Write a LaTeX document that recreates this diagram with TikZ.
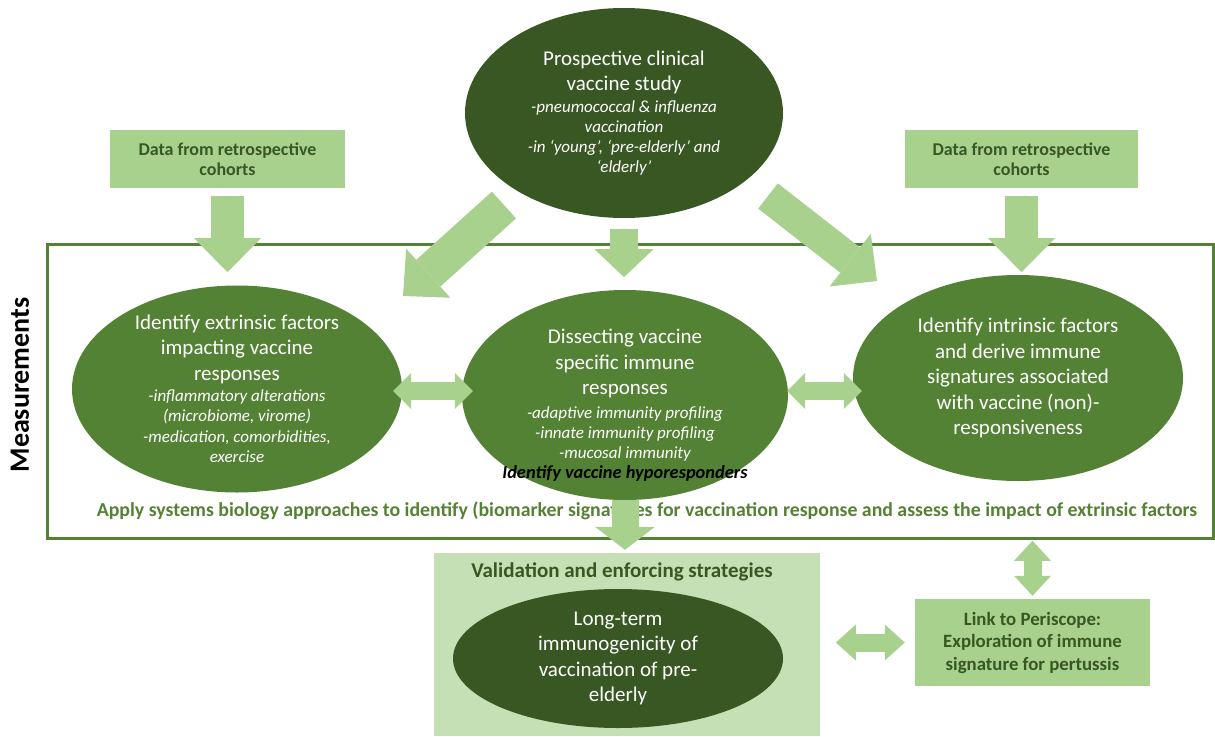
\documentclass[tikz,border=0pt]{standalone}
\usepackage{fontspec}
\setmainfont{Carlito}
\usetikzlibrary{shapes.geometric,arrows.meta,positioning}

\definecolor{darkgreen}{HTML}{385723}
\definecolor{midgreen}{HTML}{548235}
\definecolor{lightgreen}{HTML}{A9D18E}
\definecolor{palegreen}{HTML}{C5E0B4}

% small italic lines inside the ovals
\newcommand{\subline}[1]{{\fontsize{17}{20.5}\selectfont\itshape #1}}

\begin{document}
\begin{tikzpicture}[x=1pt, y=-1pt,
  oval/.style={ellipse, fill=#1, text=white, inner sep=-4pt, align=center,
               font=\fontsize{21}{25.5}\selectfont},
  databox/.style={rectangle, fill=lightgreen, text=darkgreen, align=center,
                  font=\fontsize{18}{20.5}\selectfont\bfseries},
  fatarrow/.style n args={3}{draw=lightgreen, line width=#1,
                  -{Triangle[width=#2, length=#3, line width=0pt]}},
  fatdouble/.style n args={3}{draw=lightgreen, line width=#1,
                  {Triangle[width=#2, length=#3, line width=0pt]}-{Triangle[width=#2, length=#3, line width=0pt]}}
]
\useasboundingbox (0,0) rectangle (1215,736);

% ============================
% Frames and boxes
% ============================
\node[draw=midgreen, line width=3pt, minimum width=1166pt, minimum height=294pt] (meas) at (630,391) {};
\node[fill=palegreen, minimum width=386pt, minimum height=183pt] (valid) at (627,644.5) {};

\node[databox, minimum width=235pt, minimum height=58pt] (dataL) at (227.5,159)
  {Data from retrospective\\cohorts};
\node[databox, minimum width=233pt, minimum height=58pt] (dataR) at (1021.5,159)
  {Data from retrospective\\cohorts};
\node[databox, font=\fontsize{18.8}{22.5}\selectfont\bfseries,
      minimum width=235pt, minimum height=87pt] (peri) at (1032.5,642.5)
  {Link to Periscope:\\Exploration of immune\\signature for pertussis};

% ============================
% Ovals
% ============================
\node[oval=darkgreen, minimum width=318pt, minimum height=210pt] (proto) at (624,113)
  {Prospective clinical\\vaccine study\\[-3.5pt]
   \subline{-pneumococcal \& influenza}\\[-5.5pt]
   \subline{vaccination}\\[-5.5pt]
   \subline{-in ‘young’, ‘pre-elderly’ and}\\[-5.5pt]
   \subline{‘elderly’}};

\node[oval=midgreen, minimum width=330pt, minimum height=207pt] (extr) at (237,389)
  {Identify extrinsic factors\\impacting vaccine\\responses\\[-4.5pt]
   \subline{-inflammatory alterations}\\[-5pt]
   \subline{(microbiome, virome)}\\[-5pt]
   \subline{-medication, comorbidities,}\\[-5pt]
   \subline{exercise}};

\node[oval=midgreen, minimum width=326pt, minimum height=210pt] (diss) at (625,395)
  {Dissecting vaccine\\specific immune\\responses\\[-2pt]
   \subline{-adaptive immunity profiling}\\[-5.5pt]
   \subline{-innate immunity profiling}\\[-5.5pt]
   \subline{-mucosal immunity}};

\node[oval=midgreen, minimum width=330pt, minimum height=206pt] (intr) at (1018,378)
  {Identify intrinsic factors\\and derive immune\\signatures associated\\with vaccine (non)-\\responsiveness};

\node[oval=darkgreen, minimum width=330pt, minimum height=139pt] (longt) at (618,658.5)
  {Long-term\\immunogenicity of\\vaccination of pre-\\elderly};

% ============================
% Free labels
% ============================
\node[font=\fontsize{18.4}{22}\selectfont\bfseries\itshape] (hypo) at (625,473)
  {Identify vaccine hyporesponders};
\node[text=midgreen, font=\fontsize{19.8}{23}\selectfont\bfseries] (apply) at (647,511)
  {Apply systems biology approaches to identify (biomarker signatures for vaccination response and assess the impact of extrinsic factors};
\node[text=darkgreen, font=\fontsize{21}{25}\selectfont\bfseries, below=6pt of valid.north, xshift=-5pt] (vtitle)
  {Validation and enforcing strategies};
\node[rotate=90, font=\fontsize{28}{32}\selectfont\bfseries] (mlabel) at (20,385) {Measurements};

% ============================
% Block arrows
% ============================
\draw[fatarrow={33pt}{67pt}{34pt}] ([yshift=-8pt]dataL.south) -- ([yshift=-84pt]dataL.south);
\draw[fatarrow={33pt}{67pt}{34pt}] ([yshift=-8pt]dataR.south) -- ([yshift=-84pt]dataR.south);
\draw[fatarrow={28pt}{59pt}{28pt}] ([yshift=-11pt]proto.south) -- ([yshift=-59pt]proto.south);

\coordinate (diagLs) at (504,205);
\coordinate (diagLe) at (403,296);
\draw[fatarrow={36pt}{66pt}{34pt}] (diagLs) -- (diagLe);
\coordinate (diagRs) at (768,196);
\coordinate (diagRe) at (877,281);
\draw[fatarrow={32pt}{67pt}{34pt}] (diagRs) -- (diagRe);

\draw[fatdouble={18pt}{36pt}{18pt}] ([xshift=-9pt]extr.east |- 0,391) -- ([xshift=11pt]diss.west |- 0,391);
\draw[fatdouble={18pt}{36pt}{18pt}] ([xshift=-1pt]diss.east |- 0,391) -- ([xshift=9pt]intr.west |- 0,391);

\draw[fatarrow={27pt}{60pt}{23pt}] (diss.south) -- ([yshift=3pt]valid.north -| diss.south);
\draw[fatdouble={18pt}{37pt}{20pt}] ([yshift=58pt]peri.north) -- ([yshift=3pt]peri.north);
\draw[fatdouble={18pt}{36pt}{20pt}] ([xshift=-79pt]peri.west) -- ([xshift=-10pt]peri.west);

\end{tikzpicture}
\end{document}
